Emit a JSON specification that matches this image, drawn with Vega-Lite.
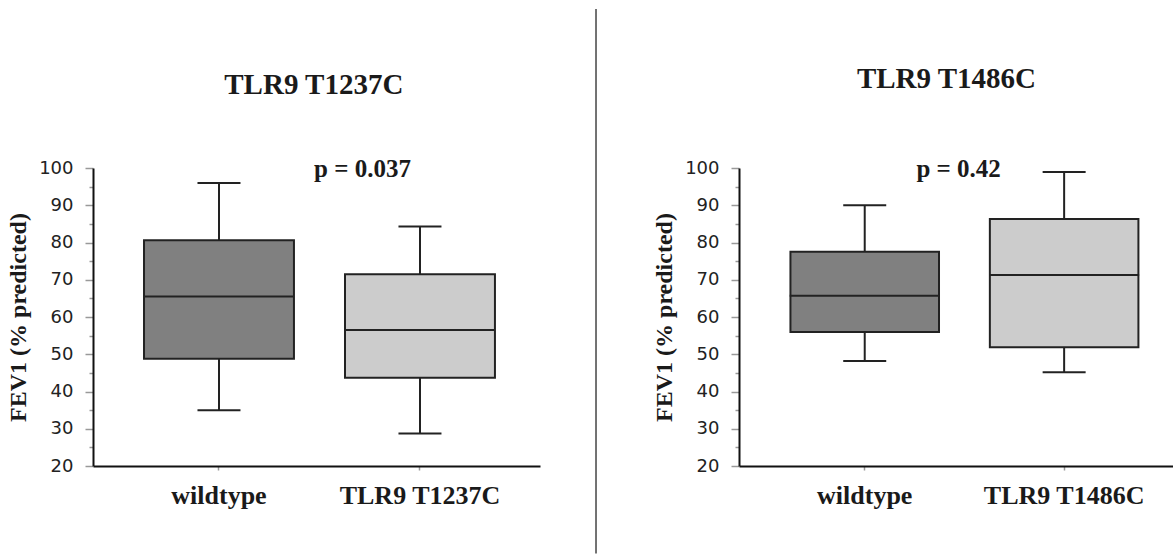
{
  "$schema": "https://vega.github.io/schema/vega-lite/v6.json",
  "background": "white",
  "padding": {"left": 6, "top": 8, "right": 0, "bottom": 0},
  "bounds": "flush",
  "spacing": 199,
  "resolve": {"scale": {"color": "independent"}},
  "datasets": {
    "left": [
      {"group": "wildtype", "lower": 35, "q1": 48.8, "median": 65.5, "q3": 80.6, "upper": 96},
      {"group": "TLR9 T1237C", "lower": 28.7, "q1": 43.7, "median": 56.5, "q3": 71.5, "upper": 84.3}
    ],
    "right": [
      {"group": "wildtype", "lower": 48.2, "q1": 56, "median": 65.7, "q3": 77.5, "upper": 90},
      {"group": "TLR9 T1486C", "lower": 45.2, "q1": 51.9, "median": 71.3, "q3": 86.3, "upper": 98.9}
    ]
  },
  "config": {
    "view": {"stroke": null},
    "axis": {
      "grid": false,
      "domainColor": "#111111",
      "domainWidth": 2,
      "tickColor": "#999999",
      "tickWidth": 1.5,
      "labelFont": "DejaVu Sans",
      "labelFontSize": 18,
      "labelColor": "#222222",
      "labelOverlap": false,
      "titleFont": "Liberation Serif",
      "titleFontWeight": "bold",
      "titleFontSize": 24,
      "titleColor": "#1a1a1a"
    }
  },
  "hconcat": [
    {
      "width": 447,
      "height": 298,
      "resolve": {"scale": {"x": "independent"}, "axis": {"x": "independent"}},
      "layer": [
        {
          "data": {"name": "left"},
          "encoding": {
            "x": {
              "field": "group", "type": "nominal",
              "scale": {"type": "band", "domain": ["wildtype", "TLR9 T1237C"], "paddingInner": 0.254, "paddingOuter": 0.239, "align": 0.531},
              "axis": {"title": null, "labelAngle": 0, "labelFont": "Liberation Serif", "labelFontWeight": "bold", "labelFontSize": 26, "labelColor": "#1a1a1a", "tickSize": 4, "labelPadding": 12}
            },
            "y": {
              "field": "lower", "type": "quantitative",
              "scale": {"domain": [20, 100], "nice": false, "zero": false},
              "axis": {
                "title": "FEV1 (% predicted)",
                "values": [20, 25, 30, 35, 40, 45, 50, 55, 60, 65, 70, 75, 80, 85, 90, 95, 100],
                "tickCount": 40,
                "labelExpr": "datum.value % 10 === 0 ? datum.label : ''",
                "labelOverlap": false,
                "labelBound": false,
                "tickSize": {"condition": {"test": "datum.value % 10 === 0", "value": 8}, "value": 4},
                "labelPadding": 12,
                "titlePadding": 8
              }
            }
          },
          "layer": [
            {
              "mark": {"type": "rule", "color": "#222222", "strokeWidth": 2},
              "encoding": {"y2": {"field": "upper"}}
            },
            {
              "mark": {"type": "bar", "stroke": "#222222", "strokeWidth": 2},
              "encoding": {
                "y": {"field": "q1", "type": "quantitative"},
                "y2": {"field": "q3"},
                "color": {"field": "group", "type": "nominal", "scale": {"domain": ["wildtype", "TLR9 T1237C"], "range": ["#808080", "#cccccc"]}, "legend": null}
              }
            },
            {
              "mark": {"type": "tick", "color": "#222222", "opacity": 1, "thickness": 2, "size": 150},
              "encoding": {"y": {"field": "median", "type": "quantitative"}}
            },
            {
              "mark": {"type": "tick", "color": "#222222", "opacity": 1, "thickness": 2, "size": 43},
              "encoding": {"y": {"field": "lower", "type": "quantitative"}}
            },
            {
              "mark": {"type": "tick", "color": "#222222", "opacity": 1, "thickness": 2, "size": 43},
              "encoding": {"y": {"field": "upper", "type": "quantitative"}}
            }
          ]
        },
        {
          "data": {"values": [{"t": "TLR9 T1237C"}]},
          "mark": {"type": "text", "font": "Liberation Serif", "fontWeight": "bold", "fontSize": 29, "baseline": "alphabetic", "align": "center", "clip": false, "color": "#1a1a1a"},
          "encoding": {
            "text": {"field": "t"},
            "x": {"datum": 0.494, "type": "quantitative", "scale": {"domain": [0, 1]}, "axis": null},
            "y": {"datum": 119.8, "type": "quantitative"}
          }
        },
        {
          "data": {"values": [{"t": "p = 0.037"}]},
          "mark": {"type": "text", "font": "Liberation Serif", "fontWeight": "bold", "fontSize": 25, "baseline": "alphabetic", "align": "center", "clip": false, "color": "#1a1a1a"},
          "encoding": {
            "text": {"field": "t"},
            "x": {"datum": 0.603, "type": "quantitative", "scale": {"domain": [0, 1]}, "axis": null},
            "y": {"datum": 97.6, "type": "quantitative"}
          }
        },
        {
          "data": {"values": [{"t": "divider"}]},
          "mark": {"type": "rule", "color": "#444444", "strokeWidth": 1.5, "clip": false},
          "encoding": {
            "x": {"datum": 1.1253, "type": "quantitative", "scale": {"domain": [0, 1]}, "axis": null},
            "y": {"datum": 142.7, "type": "quantitative"},
            "y2": {"datum": -3.5}
          }
        }
      ]
    },
    {
      "width": 434,
      "height": 298,
      "resolve": {"scale": {"x": "independent"}, "axis": {"x": "independent"}},
      "layer": [
        {
          "data": {"name": "right"},
          "encoding": {
            "x": {
              "field": "group", "type": "nominal",
              "scale": {"type": "band", "domain": ["wildtype", "TLR9 T1486C"], "paddingInner": 0.255, "paddingOuter": 0.2157, "align": 0.598},
              "axis": {"title": null, "labelAngle": 0, "labelFont": "Liberation Serif", "labelFontWeight": "bold", "labelFontSize": 26, "labelColor": "#1a1a1a", "tickSize": 4, "labelPadding": 12}
            },
            "y": {
              "field": "lower", "type": "quantitative",
              "scale": {"domain": [20, 100], "nice": false, "zero": false},
              "axis": {
                "title": "FEV1 (% predicted)",
                "values": [20, 25, 30, 35, 40, 45, 50, 55, 60, 65, 70, 75, 80, 85, 90, 95, 100],
                "tickCount": 40,
                "labelExpr": "datum.value % 10 === 0 ? datum.label : ''",
                "labelOverlap": false,
                "labelBound": false,
                "tickSize": {"condition": {"test": "datum.value % 10 === 0", "value": 8}, "value": 4},
                "labelPadding": 12,
                "titlePadding": 8
              }
            }
          },
          "layer": [
            {
              "mark": {"type": "rule", "color": "#222222", "strokeWidth": 2},
              "encoding": {"y2": {"field": "upper"}}
            },
            {
              "mark": {"type": "bar", "stroke": "#222222", "strokeWidth": 2},
              "encoding": {
                "y": {"field": "q1", "type": "quantitative"},
                "y2": {"field": "q3"},
                "color": {"field": "group", "type": "nominal", "scale": {"domain": ["wildtype", "TLR9 T1486C"], "range": ["#808080", "#cccccc"]}, "legend": null}
              }
            },
            {
              "mark": {"type": "tick", "color": "#222222", "opacity": 1, "thickness": 2, "size": 150},
              "encoding": {"y": {"field": "median", "type": "quantitative"}}
            },
            {
              "mark": {"type": "tick", "color": "#222222", "opacity": 1, "thickness": 2, "size": 43},
              "encoding": {"y": {"field": "lower", "type": "quantitative"}}
            },
            {
              "mark": {"type": "tick", "color": "#222222", "opacity": 1, "thickness": 2, "size": 43},
              "encoding": {"y": {"field": "upper", "type": "quantitative"}}
            }
          ]
        },
        {
          "data": {"values": [{"t": "TLR9 T1486C"}]},
          "mark": {"type": "text", "font": "Liberation Serif", "fontWeight": "bold", "fontSize": 29, "baseline": "alphabetic", "align": "center", "clip": false, "color": "#1a1a1a"},
          "encoding": {
            "text": {"field": "t"},
            "x": {"datum": 0.478, "type": "quantitative", "scale": {"domain": [0, 1]}, "axis": null},
            "y": {"datum": 121.4, "type": "quantitative"}
          }
        },
        {
          "data": {"values": [{"t": "p = 0.42"}]},
          "mark": {"type": "text", "font": "Liberation Serif", "fontWeight": "bold", "fontSize": 25, "baseline": "alphabetic", "align": "center", "clip": false, "color": "#1a1a1a"},
          "encoding": {
            "text": {"field": "t"},
            "x": {"datum": 0.506, "type": "quantitative", "scale": {"domain": [0, 1]}, "axis": null},
            "y": {"datum": 97.6, "type": "quantitative"}
          }
        }
      ]
    }
  ]
}
